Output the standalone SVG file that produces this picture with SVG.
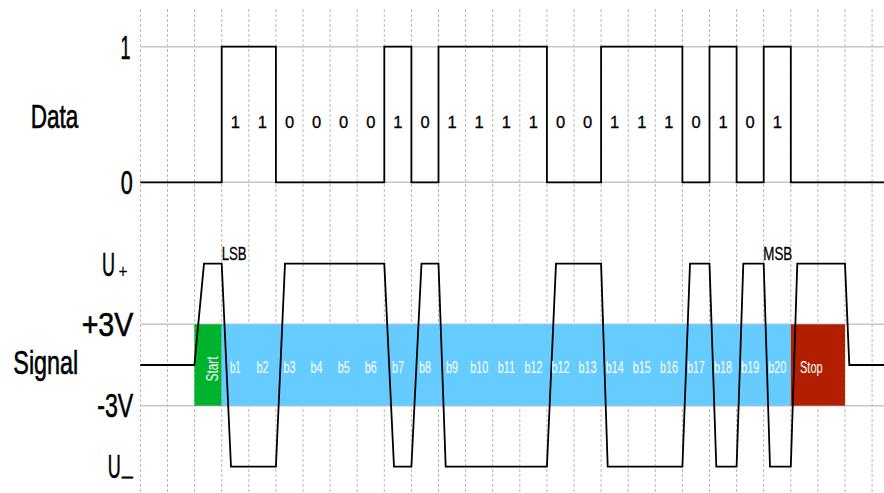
<svg xmlns="http://www.w3.org/2000/svg" width="884" height="493" viewBox="0 0 884 493">
<style>
.vg{stroke:#b8b8b8;stroke-width:1;stroke-dasharray:3,2;fill:none}
.hg{stroke:#c6c6c6;stroke-width:1.5;fill:none}
.wave{stroke:#000;stroke-width:1.8;fill:none;stroke-linejoin:miter}
.lbl{font-family:"Liberation Sans Narrow","Liberation Sans",sans-serif;font-size:33.5px;fill:#000;stroke:#000;stroke-width:0.6}
.sub{font-size:18px;stroke-width:0.2}
.dig{font-family:"Liberation Sans Narrow","Liberation Sans",sans-serif;font-size:16.5px;fill:#000;text-anchor:middle;stroke:#000;stroke-width:0.3}
.bit{font-family:"Liberation Sans Narrow","Liberation Sans",sans-serif;font-size:16px;fill:#fff;text-anchor:middle}
.sb{font-family:"Liberation Sans Narrow","Liberation Sans",sans-serif;font-size:18.5px;fill:#000;stroke:#000;stroke-width:0.3}
</style>
<rect width="884" height="493" fill="#fff"/>
<g id="grid">
<path class="vg" d="M140.4 9V493M167.5 9V493M194.6 9V493M221.7 9V493M248.8 9V493M275.9 9V493M303 9V493M330.1 9V493M357.2 9V493M384.3 9V493M411.4 9V493M438.5 9V493M465.6 9V493M492.7 9V493M519.8 9V493M546.9 9V493M574 9V493M601.1 9V493M628.2 9V493M655.3 9V493M682.4 9V493M709.5 9V493M736.6 9V493M763.7 9V493M790.8 9V493M817.9 9V493M845 9V493M872.1 9V493"/>
<path class="hg" d="M140.4 46.7H884M140.4 182.3H884M140.4 324.3H884M140.4 405.7H884"/>
</g>
<g id="frames">
<rect id="start" x="194.4" y="324.3" width="27.3" height="81.4" fill="#00b22d"/>
<rect id="bits" x="221.7" y="324.3" width="569.1" height="81.4" fill="#66ccff"/>
<rect id="stop" x="790.8" y="324.3" width="54.2" height="81.4" fill="#b21f00"/>
</g>
<g id="connectors">
<path id="data-wave" class="wave" d="M140.4 182.3H221.7V46.7H275.9V182.3H384.3V46.7H411.4V182.3H438.5V46.7H546.9V182.3H601.1V46.7H682.4V182.3H709.5V46.7H736.6V182.3H763.7V46.7H790.8V182.3H884"/>
<path id="signal-wave" class="wave" d="M140.4 365H194.4L204 263.7H221.7L231 466.7H275.9L285 263.7H384.3L394 466.7H411.4L421.5 263.7H438.5L445.7 466.7H546.9L556 263.7H601.1L607.7 466.7H682.4L690 263.7H709.5L716.3 466.7H736.6L743.3 263.7H763.7L770 466.7H790.8L797.3 263.7H845L849.3 365H884"/>
</g>
<g id="axis-labels">
<text class="lbl" x="120.5" y="58.5" textLength="10" lengthAdjust="spacingAndGlyphs">1</text>
<text class="lbl" x="120.7" y="194.3" textLength="12" lengthAdjust="spacingAndGlyphs">0</text>
<text class="lbl" x="30.7" y="127.7" textLength="47.6" lengthAdjust="spacingAndGlyphs">Data</text>
<text class="lbl" x="102" y="276"><tspan textLength="13" lengthAdjust="spacingAndGlyphs">U</tspan><tspan class="sub" dx="3.5" dy="2" textLength="9" lengthAdjust="spacingAndGlyphs">+</tspan></text>
<text class="lbl" x="81.7" y="336" textLength="51.6" lengthAdjust="spacingAndGlyphs">+3V</text>
<text class="lbl" x="13.3" y="374" textLength="65" lengthAdjust="spacingAndGlyphs">Signal</text>
<text class="lbl" x="97.3" y="417" textLength="36" lengthAdjust="spacingAndGlyphs">-3V</text>
<text class="lbl" x="107.7" y="478"><tspan textLength="13" lengthAdjust="spacingAndGlyphs">U</tspan><tspan class="sub" dx="1.3" dy="3.5" style="stroke-width:0.8" textLength="10.7" lengthAdjust="spacingAndGlyphs">–</tspan></text>
</g>
<g id="data-bits">
<text class="dig" x="235.3" y="128.3">1</text>
<text class="dig" x="262.4" y="128.3">1</text>
<text class="dig" x="289.5" y="128.3">0</text>
<text class="dig" x="316.6" y="128.3">0</text>
<text class="dig" x="343.7" y="128.3">0</text>
<text class="dig" x="370.8" y="128.3">0</text>
<text class="dig" x="397.9" y="128.3">1</text>
<text class="dig" x="425" y="128.3">0</text>
<text class="dig" x="452.1" y="128.3">1</text>
<text class="dig" x="479.2" y="128.3">1</text>
<text class="dig" x="506.3" y="128.3">1</text>
<text class="dig" x="533.4" y="128.3">1</text>
<text class="dig" x="560.5" y="128.3">0</text>
<text class="dig" x="587.6" y="128.3">0</text>
<text class="dig" x="614.7" y="128.3">1</text>
<text class="dig" x="641.8" y="128.3">1</text>
<text class="dig" x="668.9" y="128.3">1</text>
<text class="dig" x="696" y="128.3">0</text>
<text class="dig" x="723.1" y="128.3">1</text>
<text class="dig" x="750.2" y="128.3">0</text>
<text class="dig" x="777.3" y="128.3">1</text>
</g>
<g id="bit-labels">
<text class="bit" transform="translate(218.3 369) rotate(-90)" x="0" y="0" textLength="25" lengthAdjust="spacingAndGlyphs">Start</text>
<text class="bit" x="235.3" y="373.3" textLength="10.7" lengthAdjust="spacingAndGlyphs">b1</text>
<text class="bit" x="262.4" y="373.3" textLength="12" lengthAdjust="spacingAndGlyphs">b2</text>
<text class="bit" x="289.5" y="373.3" textLength="12" lengthAdjust="spacingAndGlyphs">b3</text>
<text class="bit" x="316.6" y="373.3" textLength="12" lengthAdjust="spacingAndGlyphs">b4</text>
<text class="bit" x="343.7" y="373.3" textLength="12" lengthAdjust="spacingAndGlyphs">b5</text>
<text class="bit" x="370.8" y="373.3" textLength="12" lengthAdjust="spacingAndGlyphs">b6</text>
<text class="bit" x="397.9" y="373.3" textLength="12" lengthAdjust="spacingAndGlyphs">b7</text>
<text class="bit" x="425" y="373.3" textLength="12" lengthAdjust="spacingAndGlyphs">b8</text>
<text class="bit" x="452.1" y="373.3" textLength="12" lengthAdjust="spacingAndGlyphs">b9</text>
<text class="bit" x="479.2" y="373.3" textLength="18" lengthAdjust="spacingAndGlyphs">b10</text>
<text class="bit" x="506.3" y="373.3" textLength="17.3" lengthAdjust="spacingAndGlyphs">b11</text>
<text class="bit" x="533.4" y="373.3" textLength="18" lengthAdjust="spacingAndGlyphs">b12</text>
<text class="bit" x="560.5" y="373.3" textLength="18" lengthAdjust="spacingAndGlyphs">b12</text>
<text class="bit" x="587.6" y="373.3" textLength="18" lengthAdjust="spacingAndGlyphs">b13</text>
<text class="bit" x="614.7" y="373.3" textLength="18" lengthAdjust="spacingAndGlyphs">b14</text>
<text class="bit" x="641.8" y="373.3" textLength="18" lengthAdjust="spacingAndGlyphs">b15</text>
<text class="bit" x="668.9" y="373.3" textLength="18" lengthAdjust="spacingAndGlyphs">b16</text>
<text class="bit" x="696" y="373.3" textLength="17.3" lengthAdjust="spacingAndGlyphs">b17</text>
<text class="bit" x="723.1" y="373.3" textLength="18" lengthAdjust="spacingAndGlyphs">b18</text>
<text class="bit" x="750.2" y="373.3" textLength="18" lengthAdjust="spacingAndGlyphs">b19</text>
<text class="bit" x="777.3" y="373.3" textLength="18" lengthAdjust="spacingAndGlyphs">b20</text>
<text class="bit" x="800" y="373.3" style="text-anchor:start" textLength="22.7" lengthAdjust="spacingAndGlyphs">Stop</text>
</g>
<g id="markers">
<text class="sb" x="221.7" y="260" textLength="25" lengthAdjust="spacingAndGlyphs">LSB</text>
<text class="sb" x="763.3" y="260" textLength="29" lengthAdjust="spacingAndGlyphs">MSB</text>
</g>
</svg>
